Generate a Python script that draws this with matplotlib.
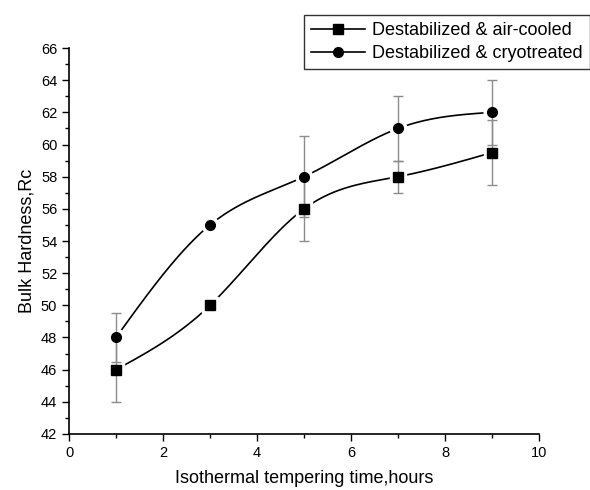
import numpy as np
import matplotlib
matplotlib.use("Agg")
import matplotlib.pyplot as plt
from matplotlib.ticker import MultipleLocator

plt.rcParams['font.family'] = ['Liberation Sans', 'DejaVu Sans']

# data
hours = [1, 3, 5, 7, 9]
air_cooled = [46, 50, 56, 58, 59.5]
air_err = [2, 0, 2, 1, 2]
cryotreated = [48, 55, 58, 61, 62]
cryo_err = [1.5, 0, 2.5, 2, 2]

labels = ['Destabilized & air-cooled', 'Destabilized & cryotreated']


def natural_spline(x, y, n=200):
    # natural cubic spline through the points (smooth connecting line)
    x = np.asarray(x, float)
    y = np.asarray(y, float)
    k = len(x)
    h = np.diff(x)
    A = np.zeros((k, k))
    b = np.zeros(k)
    A[0, 0] = A[-1, -1] = 1
    for i in range(1, k - 1):
        A[i, i - 1] = h[i - 1]
        A[i, i] = 2 * (h[i - 1] + h[i])
        A[i, i + 1] = h[i]
        b[i] = 6 * ((y[i + 1] - y[i]) / h[i] - (y[i] - y[i - 1]) / h[i - 1])
    M = np.linalg.solve(A, b)
    xs = np.linspace(x[0], x[-1], n)
    idx = np.clip(np.searchsorted(x, xs) - 1, 0, k - 2)
    x0, x1 = x[idx], x[idx + 1]
    hh = x1 - x0
    t0 = x1 - xs
    t1 = xs - x0
    ys = (M[idx] * t0 ** 3 + M[idx + 1] * t1 ** 3) / (6 * hh) \
        + (y[idx] / hh - M[idx] * hh / 6) * t0 \
        + (y[idx + 1] / hh - M[idx + 1] * hh / 6) * t1
    return xs, ys


fig = plt.figure(figsize=(5.9, 4.9), dpi=100)
ax = fig.add_axes([0.117, 0.1143, 0.7966, 0.7877])

handles = []
for vals, err, mk in [(air_cooled, air_err, 's'), (cryotreated, cryo_err, 'o')]:
    xs, ys = natural_spline(hours, vals)
    ax.plot(xs, ys, color='black', lw=1.2, zorder=1)
    # white halo so the curve stops short of the markers
    ax.plot(hours, vals, ls='none', marker=mk, ms=12, mfc='white', mec='white', zorder=2)
    ax.errorbar(hours, vals, yerr=err, fmt='none', ecolor='#8c8c8c',
                elinewidth=1, capsize=3.5, capthick=1, zorder=3)
    ax.plot(hours, vals, ls='none', marker=mk, ms=7, color='black', zorder=4)
    h, = ax.plot([], [], color='black', lw=1.2, marker=mk, ms=7)
    handles.append(h)

ax.set_xlim(0, 10)
ax.set_ylim(42, 66)
ax.xaxis.set_major_locator(MultipleLocator(2))
ax.xaxis.set_minor_locator(MultipleLocator(1))
ax.yaxis.set_major_locator(MultipleLocator(2))
ax.yaxis.set_minor_locator(MultipleLocator(1))
ax.tick_params(which='both', direction='out', labelsize=10.5, width=1)
ax.tick_params(which='major', length=5)
ax.tick_params(which='minor', length=3)
ax.spines['top'].set_visible(False)
ax.spines['right'].set_visible(False)
ax.spines['left'].set_linewidth(1.2)
ax.spines['bottom'].set_linewidth(1.2)

ax.set_xlabel('Isothermal tempering time,hours', fontsize=13, labelpad=7)
ax.set_ylabel('Bulk Hardness,Rc', fontsize=13, labelpad=4)

leg = fig.legend(handles, labels, loc='upper right', bbox_to_anchor=(1.0, 0.97),
                 fontsize=13, frameon=True, fancybox=False, edgecolor='black',
                 handlelength=3.0, handletextpad=0.4, borderpad=0.4, labelspacing=0.35,
                 borderaxespad=0)
leg.get_frame().set_linewidth(1)

fig.savefig('out.png', dpi=100)
